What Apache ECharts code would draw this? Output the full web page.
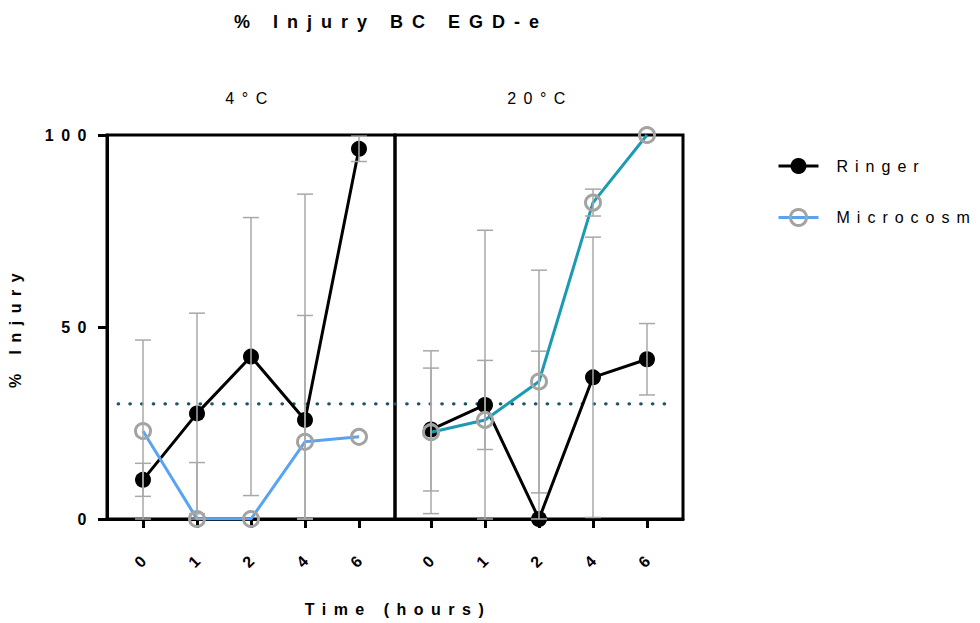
<!DOCTYPE html>
<html>
<head>
<meta charset="utf-8">
<script src="https://cdn.jsdelivr.net/npm/echarts@6/dist/echarts.min.js"></script>
<style>
  html, body { margin: 0; padding: 0; background: #fff; }
  #chart { width: 980px; height: 623px; }
  /* wide tracking used for all chart text */
  #chart svg text { letter-spacing: 7.5px; }
</style>
</head>
<body>
<div id="chart"></div>
<script>
// Sampling times (hours), shown as equally spaced categories
const hours = ['0', '1', '2', '4', '6'];

// 4 °C panel: mean % injury and SD
const ringer4 = [10.2, 27.5, 42.3, 25.8, 96.4];
const ringer4Sd = [4.3, 26.1, 36.2, 27.2, 3.3];
const micro4 = [22.9, 0, 0, 20.1, 21.4];
const micro4Sd = [23.7, 14.7, 0, 64.5, 0];

// 20 °C panel: mean % injury and SD
const ringer20 = [23.3, 29.7, 0, 36.9, 41.6];
const ringer20Sd = [16.0, 11.6, 43.7, 36.5, 9.3];
const micro20 = [22.6, 25.8, 35.8, 82.4, 100];
const micro20Sd = [21.2, 49.4, 29.0, 3.5, 0];

// Reference level and axis labels
const threshold = 30;
const panelNames = ['4°C', '20°C'];
const yTicks = [0, 50, 100];
const chartTitle = '% Injury BC EGD-e';
const seriesNames = ['Ringer', 'Microcosm'];

const FONT = "'Liberation Sans', Arial, Helvetica, sans-serif";
const idx = hours.map((_, i) => i);
const X_MIN = -2 / 3, X_MAX = 14 / 3;

function points(vals) { return vals.map((v, i) => [i, v]); }
function bars(vals, sds) {
  const out = [];
  vals.forEach((v, i) => {
    if (sds[i] > 0) out.push([i, Math.max(0, v - sds[i]), Math.min(100, v + sds[i])]);
  });
  return out;
}

function errorBar(params, api) {
  const x = api.value(0), lo = api.value(1), hi = api.value(2);
  const a = api.coord([x, lo]), b = api.coord([x, hi]);
  const hw = 8;
  const style = { stroke: '#a8a8a8', lineWidth: 1.5, fill: null };
  return {
    type: 'group',
    children: [
      { type: 'line', shape: { x1: a[0], y1: a[1], x2: b[0], y2: b[1] }, style },
      { type: 'line', shape: { x1: b[0] - hw, y1: b[1], x2: b[0] + hw, y2: b[1] }, style },
      { type: 'line', shape: { x1: a[0] - hw, y1: a[1], x2: a[0] + hw, y2: a[1] }, style }
    ]
  };
}

function xAxis(gridIndex) {
  return {
    type: 'value', gridIndex, min: X_MIN, max: X_MAX,
    axisLine: { show: true, onZero: false, lineStyle: { color: '#000', width: 3 } },
    axisTick: { show: true, customValues: idx, length: 9, lineStyle: { color: '#000', width: 3 } },
    axisLabel: {
      customValues: idx, formatter: v => hours[Math.round(v)],
      rotate: 45, align: 'center', verticalAlign: 'middle', margin: 40,
      fontFamily: FONT, fontWeight: 'bold', fontSize: 16, color: '#000'
    },
    splitLine: { show: false }
  };
}

const ringerStyle = {
  type: 'line', symbol: 'circle', symbolSize: 16,
  lineStyle: { color: '#000', width: 3 },
  itemStyle: { color: '#000' }, z: 3
};
function microStyle(lineColor) {
  return {
    type: 'line', symbol: 'circle', symbolSize: 15,
    lineStyle: { color: lineColor, width: 3 },
    itemStyle: { color: 'rgba(255,255,255,0)', borderColor: '#a3a3a3', borderWidth: 3 }, z: 4
  };
}
const refLine = {
  type: 'line', symbol: 'none', silent: true, z: 2,
  lineStyle: { color: '#1b5566', width: 3.2, type: [0.5, 11.2], cap: 'round' }
};

const chart = echarts.init(document.getElementById('chart'), null, { renderer: 'svg' });
chart.setOption({
  animation: false,
  backgroundColor: '#fff',
  grid: [
    { left: 107, top: 135, width: 288, height: 384, show: true, borderColor: '#000', borderWidth: 3, backgroundColor: 'transparent' },
    { left: 395, top: 135, width: 288, height: 384, show: true, borderColor: '#000', borderWidth: 3, backgroundColor: 'transparent' }
  ],
  xAxis: [xAxis(0), xAxis(1)],
  yAxis: [
    {
      type: 'value', gridIndex: 0, min: 0, max: 100, interval: 50,
      name: '% Injury', nameLocation: 'middle', nameRotate: 90, nameGap: 84,
      nameTextStyle: { fontFamily: FONT, fontWeight: 'bold', fontSize: 16, color: '#000' },
      axisLine: { show: true, onZero: false, lineStyle: { color: '#000', width: 3 } },
      axisTick: { show: true, length: 9, lineStyle: { color: '#000', width: 3 } },
      axisLabel: { margin: 13, fontFamily: FONT, fontWeight: 'bold', fontSize: 16, color: '#000',
        formatter: v => (yTicks.indexOf(v) >= 0 ? String(v) : '') },
      splitLine: { show: false }
    },
    {
      type: 'value', gridIndex: 1, min: 0, max: 100, interval: 50,
      axisLine: { show: false, onZero: false }, axisTick: { show: false }, axisLabel: { show: false },
      splitLine: { show: false }
    }
  ],
  legend: {
    data: seriesNames,
    orient: 'vertical', left: 772, top: 153,
    itemWidth: 40, itemHeight: 20, itemGap: 34,
    lineStyle: { width: 3 },
    itemStyle: { borderWidth: 3 },
    textStyle: { fontFamily: FONT, fontSize: 16, color: '#000', padding: [0, 0, 0, 13] },
    selectedMode: false
  },
  graphic: [
    { type: 'text', x: 391, y: 22, silent: true,
      style: { text: chartTitle, fontFamily: FONT, fontWeight: 'bold', fontSize: 18, fill: '#000', align: 'center', verticalAlign: 'middle' } },
    { type: 'text', x: 250, y: 98, silent: true,
      style: { text: panelNames[0], fontFamily: FONT, fontSize: 16, fill: '#000', align: 'center', verticalAlign: 'middle' } },
    { type: 'text', x: 540, y: 98, silent: true,
      style: { text: panelNames[1], fontFamily: FONT, fontSize: 16, fill: '#000', align: 'center', verticalAlign: 'middle' } },
    { type: 'text', x: 398, y: 609, silent: true,
      style: { text: 'Time (hours)', fontFamily: FONT, fontWeight: 'bold', fontSize: 16, fill: '#000', align: 'center', verticalAlign: 'middle' } }
  ],
  series: [
    // 4 °C
    Object.assign({}, refLine, { xAxisIndex: 0, yAxisIndex: 0, data: [[-0.46, threshold], [X_MAX, threshold]] }),
    Object.assign({ name: seriesNames[0], xAxisIndex: 0, yAxisIndex: 0, data: points(ringer4) }, ringerStyle),
    Object.assign({ name: seriesNames[1], xAxisIndex: 0, yAxisIndex: 0, data: points(micro4) }, microStyle('#58a3f2')),
    { type: 'custom', xAxisIndex: 0, yAxisIndex: 0, renderItem: errorBar, silent: true, z: 5,
      data: bars(ringer4, ringer4Sd).concat(bars(micro4, micro4Sd)) },
    // 20 °C
    Object.assign({}, refLine, { xAxisIndex: 1, yAxisIndex: 1, data: [[X_MIN, threshold], [4.48, threshold]] }),
    Object.assign({ name: seriesNames[0], xAxisIndex: 1, yAxisIndex: 1, data: points(ringer20) }, ringerStyle),
    Object.assign({ name: seriesNames[1], xAxisIndex: 1, yAxisIndex: 1, data: points(micro20) }, microStyle('#1b9bb3')),
    { type: 'custom', xAxisIndex: 1, yAxisIndex: 1, renderItem: errorBar, silent: true, z: 5,
      data: bars(ringer20, ringer20Sd).concat(bars(micro20, micro20Sd)) }
  ]
});

// Per-text tracking adjustments on top of the default
const tracking = { [chartTitle]: '9px', Ringer: '7px', Microcosm: '7px' };
function applyTracking() {
  document.querySelectorAll('#chart svg text').forEach(el => {
    const t = el.textContent;
    if (tracking[t]) el.style.letterSpacing = tracking[t];
  });
}
applyTracking();
chart.on('finished', applyTracking);
</script>
</body>
</html>
